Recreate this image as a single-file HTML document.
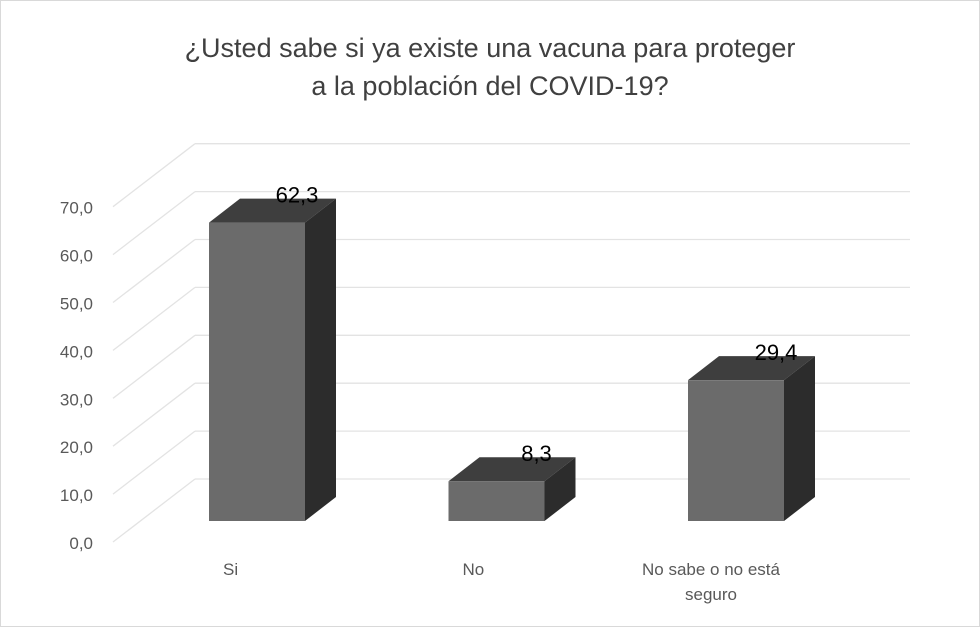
<!DOCTYPE html>
<html><head><meta charset="utf-8"><style>
body{margin:0;background:#fff}
svg{display:block;font-family:"Liberation Sans",sans-serif}
</style></head><body>
<svg id="chart" width="980" height="627" viewBox="0 0 980 627">
<rect x="0.5" y="0.5" width="979" height="626" fill="#fff" stroke="#d9d9d9"/>
<text x="490" y="57" text-anchor="middle" font-size="27" fill="#404040">¿Usted sabe si ya existe una vacuna para proteger</text>
<text x="490" y="95" text-anchor="middle" font-size="27" fill="#404040">a la población del COVID-19?</text>
<g id="grid"></g><g id="bars"></g><g id="labels"></g>
</svg>
<script>
const categories = [["Si"], ["No"], ["No sabe o no está", "seguro"]];
const values = [62.3, 8.3, 29.4];
const valueLabels = ["62,3", "8,3", "29,4"];
const ticks = [0, 10, 20, 30, 40, 50, 60, 70];
const tickLabels = ["0,0", "10,0", "20,0", "30,0", "40,0", "50,0", "60,0", "70,0"];

const NS = "http://www.w3.org/2000/svg";
const PX = 4.79;
const frontY = v => 542 - v * PX;
const backY = v => 479 - v * PX;
const barBottom = 521;
const barY = v => barBottom - v * PX;
const barX = i => 209 + i * 239.5;
const BW = 96, DX = 31, DY = 24;
function mk(tag, attrs, parent) {
  const e = document.createElementNS(NS, tag);
  for (const k in attrs) e.setAttribute(k, attrs[k]);
  parent.appendChild(e); return e;
}
const grid = document.getElementById("grid");
const bars = document.getElementById("bars");
const labels = document.getElementById("labels");
ticks.forEach((t, i) => {
  const d = mk("line", {x1: 113, y1: frontY(t), x2: 195, y2: backY(t), stroke: "#e3e3e3", "stroke-width": 1.3}, grid);
  
  
  const h = mk("line", {x1: 195, y1: backY(t), x2: 910, y2: backY(t), stroke: "#e3e3e3", "stroke-width": 1.3}, grid);
  
  
  const tx = mk("text", {x: 93, y: frontY(t) + 7, "text-anchor": "end", "font-size": 17, fill: "#595959"}, labels);
  tx.textContent = tickLabels[i];
  
  
});
values.forEach((v, i) => {
  const x = barX(i), y = barY(v);
  const g = mk("g", {}, bars);
  
  
  mk("polygon", {points: `${x},${y} ${x+DX},${y-DY} ${x+BW+DX},${y-DY} ${x+BW},${y}`, fill: "#3e3e3e"}, g);
  mk("polygon", {points: `${x+BW},${y} ${x+BW+DX},${y-DY} ${x+BW+DX},${barBottom-DY} ${x+BW},${barBottom}`, fill: "#2c2c2c"}, g);
  mk("rect", {x: x, y: y, width: BW, height: barBottom - y, fill: "#6b6b6b"}, g);
  const vl = mk("text", {x: x + BW/2 + 40, y: y - DY + 4, "text-anchor": "middle", "font-size": 22, fill: "#000"}, labels);
  vl.textContent = valueLabels[i];
  
  
  categories[i].forEach((line, j) => {
    const c = mk("text", {x: x + BW/2 - 25 + (categories[i].length > 1 ? 0 : 0), y: 575 + j * 25, "text-anchor": categories[i].length > 1 ? "middle" : "start", "font-size": 17, fill: "#595959"}, labels);
    if (categories[i].length === 1) c.setAttribute("x", x + 14);
    else c.setAttribute("x", x + BW/2 - 25);
    c.textContent = line;
    
    
  });
});
</script>
</body></html>
